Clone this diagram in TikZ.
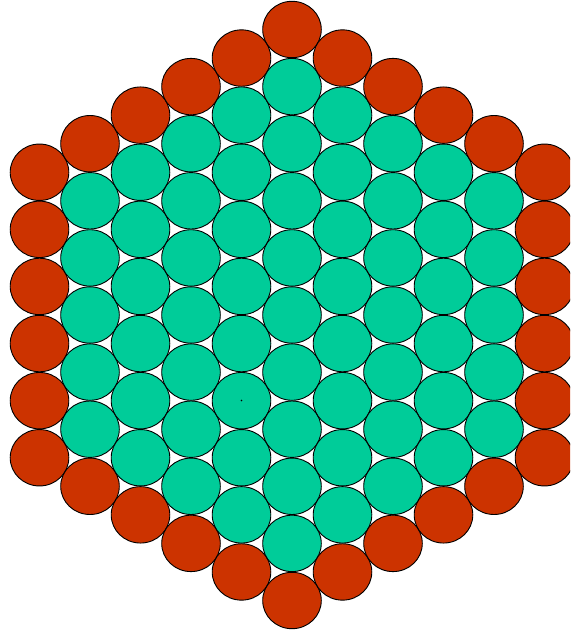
\documentclass[tikz,border=0pt]{standalone}
\usepackage{tikz}
\usepackage{xcolor}
\definecolor{hexgreen}{HTML}{00CC99}
\definecolor{hexred}{HTML}{CC3300}

\begin{document}
\begin{tikzpicture}[x=1pt, y=-1pt, line width=0.9pt,
    ball/.style={draw=black},
    inner/.style={ball, fill=hexgreen},
    outer/.style={ball, fill=hexred}]
    \useasboundingbox (0,0) rectangle (570,634);
    \clip (0,0) rectangle (570,634);
    % kolom k = -5..5, tiap kolom 11-|k| bola
    \foreach \k in {-5,...,5} {
      \pgfmathtruncatemacro{\n}{11-abs(\k)}
      \pgfmathtruncatemacro{\last}{\n-1}
      \foreach \j in {0,...,\last} {
        \pgfmathsetmacro{\cx}{292+50.5*\k}
        \pgfmathsetmacro{\cy}{315+57.1*(\j-(\n-1)/2)}
        \pgfmathtruncatemacro{\rim}{(abs(\k)==5)||(\j==0)||(\j==\last)}
        \ifnum\rim=1
          \draw[outer] (\cx,\cy) ellipse [x radius=29.3, y radius=28.2];
        \else
          \draw[inner] (\cx,\cy) ellipse [x radius=29.3, y radius=28.2];
        \fi
      }
    }
    % titik kecil di tengah
    \fill[black] (241.5,400.5) circle (0.8);
\end{tikzpicture}
\end{document}
